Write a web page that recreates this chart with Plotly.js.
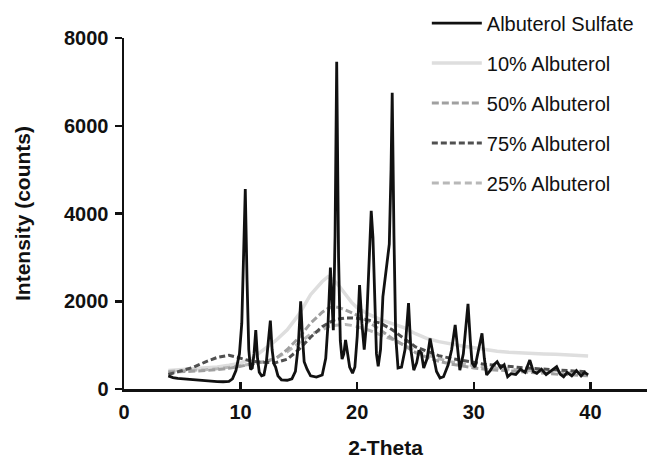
<!DOCTYPE html>
<html>
<head>
<meta charset="utf-8">
<script src="https://cdn.plot.ly/plotly-3.0.1.min.js"></script>
<style>html,body{margin:0;padding:0;background:#fff;}#chart{width:647px;height:459px;}</style>
</head>
<body>
<div id="chart"></div>
<script>
// Albuterol Sulfate (crystalline)
const sulfateX = [3.8,4.2,4.6,5.0,5.5,6.0,6.5,7.0,7.5,8.0,8.5,9.0,9.3,9.6,9.9,10.1,10.25,10.4,10.55,10.7,10.85,11.0,11.15,11.3,11.45,11.6,11.8,12.0,12.2,12.4,12.55,12.7,12.85,13.0,13.2,13.5,14.0,14.4,14.7,14.95,15.15,15.3,15.45,15.7,16.0,16.5,17.0,17.3,17.5,17.7,17.85,17.95,18.1,18.24,18.4,18.55,18.7,18.85,19.0,19.15,19.35,19.6,19.8,20.0,20.2,20.4,20.6,20.8,21.0,21.2,21.35,21.5,21.65,21.8,22.0,22.2,22.5,22.75,22.9,23.0,23.15,23.3,23.5,23.8,24.1,24.4,24.6,24.85,25.1,25.3,25.5,25.7,26.0,26.25,26.5,26.8,27.1,27.4,27.8,28.1,28.4,28.6,28.8,29.1,29.5,29.7,29.85,30.1,30.4,30.7,30.9,31.1,31.4,31.7,32.0,32.3,32.6,32.9,33.2,33.6,34.0,34.4,34.8,35.1,35.4,35.8,36.2,36.6,37.1,37.4,37.7,38.0,38.4,38.8,39.2,39.5,39.8];
const sulfateY = [300,260,240,230,220,210,200,190,180,170,165,175,230,420,800,1500,3000,4560,2500,900,450,480,800,1340,700,380,300,320,600,1200,1560,900,580,500,300,210,200,230,400,1000,2000,1200,620,450,300,270,320,700,1500,2770,1900,1340,3500,7460,3000,1100,680,800,1120,850,500,360,500,1200,2370,1500,900,1500,3000,4060,3450,1800,800,520,900,2100,2800,3300,5000,6750,3500,1200,480,500,900,1960,900,430,600,880,820,480,700,1150,800,400,250,280,550,900,1460,900,430,800,1940,1100,590,500,900,1270,700,320,420,550,620,480,550,280,350,330,450,380,660,400,360,450,330,420,510,340,280,380,300,420,300,380,320];

// Amorphous blends
const blendX = [3.8,5,6,7,8,9,10,11,12,13,14,15,16,17,17.5,18,18.5,19,19.5,20,21,22,23,24,25,26,27,28,29,30,31,32,33,34,35,36,37,38,39,39.8];
const pct10Y = [420,440,460,480,500,540,590,700,900,1100,1350,1700,2150,2450,2560,2480,2330,2150,1980,1850,1700,1580,1500,1400,1260,1150,1080,1020,980,940,890,860,840,820,810,800,790,780,760,750];
const pct50Y = [380,390,400,420,440,470,520,570,620,690,900,1170,1500,1750,1840,1880,1850,1800,1740,1680,1530,1340,1150,1000,830,720,630,570,520,480,450,430,410,390,370,360,340,330,320,300];
const pct75Y = [330,420,500,620,720,770,700,630,610,600,680,900,1180,1420,1500,1570,1600,1620,1620,1610,1570,1500,1350,1150,960,860,760,700,650,600,560,540,510,490,470,450,430,410,400,390];
const pct25Y = [400,410,420,440,460,490,530,570,620,700,850,1050,1250,1350,1420,1450,1460,1470,1450,1420,1340,1240,1130,1000,880,780,690,620,570,530,500,470,450,430,410,400,380,370,360,350];

const names = ['Albuterol Sulfate','10% Albuterol','50% Albuterol','75% Albuterol','25% Albuterol'];

const traces = [
  {x: blendX, y: pct10Y, name: names[1], legendrank: 2, line:{color:'#dedede', width:3.5}},
  {x: blendX, y: pct25Y, name: names[4], legendrank: 5, line:{color:'#b8b8b8', width:3, dash:'7px,4px'}},
  {x: blendX, y: pct50Y, name: names[2], legendrank: 3, line:{color:'#a0a0a0', width:3, dash:'7px,3px'}},
  {x: blendX, y: pct75Y, name: names[3], legendrank: 4, line:{color:'#505050', width:3, dash:'6px,3px'}},
  {x: sulfateX, y: sulfateY, name: names[0], legendrank: 1, line:{color:'#111111', width:2.8}}
];
traces.forEach((t,i)=>{t.type='scatter'; t.mode='lines'; t.legendgroup='g'+i;});

const fam = '"Liberation Sans", Arial, sans-serif';
const axisFont = {family:fam, size:20, color:'#111', weight:'bold'};
const titleFont = {family:fam, size:21, color:'#111', weight:'bold'};

const layout = {
  width:647, height:459,
  margin:{l:124, r:0, t:38, b:70, pad:0},
  paper_bgcolor:'#fff', plot_bgcolor:'#fff',
  showlegend:true,
  legend:{x:0.579, y:1.098, xanchor:'left', yanchor:'top', traceorder:'grouped', tracegroupgap:11,
    font:{family:fam, size:20, color:'#111'}, bgcolor:'rgba(0,0,0,0)', itemwidth:50},
  xaxis:{range:[0,44.85], tickvals:[0,10,20,30,40], ticks:'inside', ticklen:7, tickwidth:2.5, tickcolor:'#111',
    showline:true, linecolor:'#111', linewidth:2.5, showgrid:false, zeroline:false, tickfont:axisFont,
    ticklabelstandoff:3,
    title:{text:'2-Theta', font:titleFont, standoff:20}},
  yaxis:{range:[0,8000], tickvals:[0,2000,4000,6000,8000], ticks:'outside', ticklen:7, tickwidth:2.5, tickcolor:'#111',
    showline:true, linecolor:'#111', linewidth:2.5, showgrid:false, zeroline:false, tickfont:axisFont,
    ticklabelstandoff:2,
    title:{text:'Intensity (counts)', font:titleFont, standoff:28}}
};

Plotly.newPlot('chart', traces, layout, {displayModeBar:false, staticPlot:true});
</script>
</body>
</html>
